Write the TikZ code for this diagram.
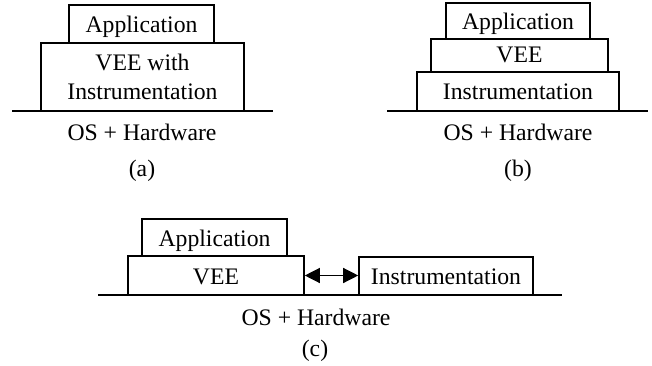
\documentclass[tikz,border=0pt]{standalone}
\usepackage{fontspec}
\setmainfont{Liberation Serif}
\usetikzlibrary{arrows.meta}
\begin{document}
\begin{tikzpicture}[x=1pt,y=-1pt,
  font=\fontsize{23.7}{29}\selectfont,
  layer/.style={draw, line width=1.6pt, inner sep=0pt, text height=17pt, text depth=0pt},
  twolayer/.style={draw, line width=1.6pt, inner sep=0pt, align=center},
  ground/.style={line width=1.3pt},
  caption/.style={anchor=base, inner sep=0pt}]
\useasboundingbox (0,0) rectangle (652,366);
% (a)
\node[layer, minimum width=145pt, minimum height=38pt] (aapp) at (141.5,24) {Application};
\node[twolayer, minimum width=203pt, minimum height=68pt] (avee) at (142.5,77) {VEE with\\Instrumentation};
\coordinate (agl) at (12,111); \coordinate (agr) at (273,111);
\draw[ground] (agl) -- (agr);
\node[caption] (aos) at (142,141) {OS + Hardware};
\node[caption] (alab) at (142,176) {(a)};
% (b)
\node[layer, minimum width=144pt, minimum height=36pt] (bapp) at (518,21) {Application};
\node[layer, minimum width=177pt, minimum height=33pt, text height=14pt] (bvee) at (519.5,55.5) {VEE};
\node[layer, minimum width=202pt, minimum height=39pt] (binst) at (518,91.5) {Instrumentation};
\coordinate (bgl) at (387,111); \coordinate (bgr) at (648,111);
\draw[ground] (bgl) -- (bgr);
\node[caption] (bos) at (518,141) {OS + Hardware};
\node[caption] (blab) at (518,176) {(b)};
% (c)
\node[layer, minimum width=145pt, minimum height=37pt] (capp) at (214.5,237.5) {Application};
\node[layer, minimum width=176pt, minimum height=39pt] (cvee) at (216,275.5) {VEE};
\node[layer, minimum width=174pt, minimum height=38pt] (cinst) at (446,276) {Instrumentation};
\draw[line width=1.3pt, {Triangle[length=15pt,width=15pt]}-{Triangle[length=15pt,width=15pt]}] (cvee.east) -- (cinst.west |- cvee.east);
\coordinate (cgl) at (98,295); \coordinate (cgr) at (562,295);
\draw[ground] (cgl) -- (cgr);
\node[caption] (cos) at (316,325) {OS + Hardware};
\node[caption] (clab) at (315,356) {(c)};
\end{tikzpicture}
\end{document}
